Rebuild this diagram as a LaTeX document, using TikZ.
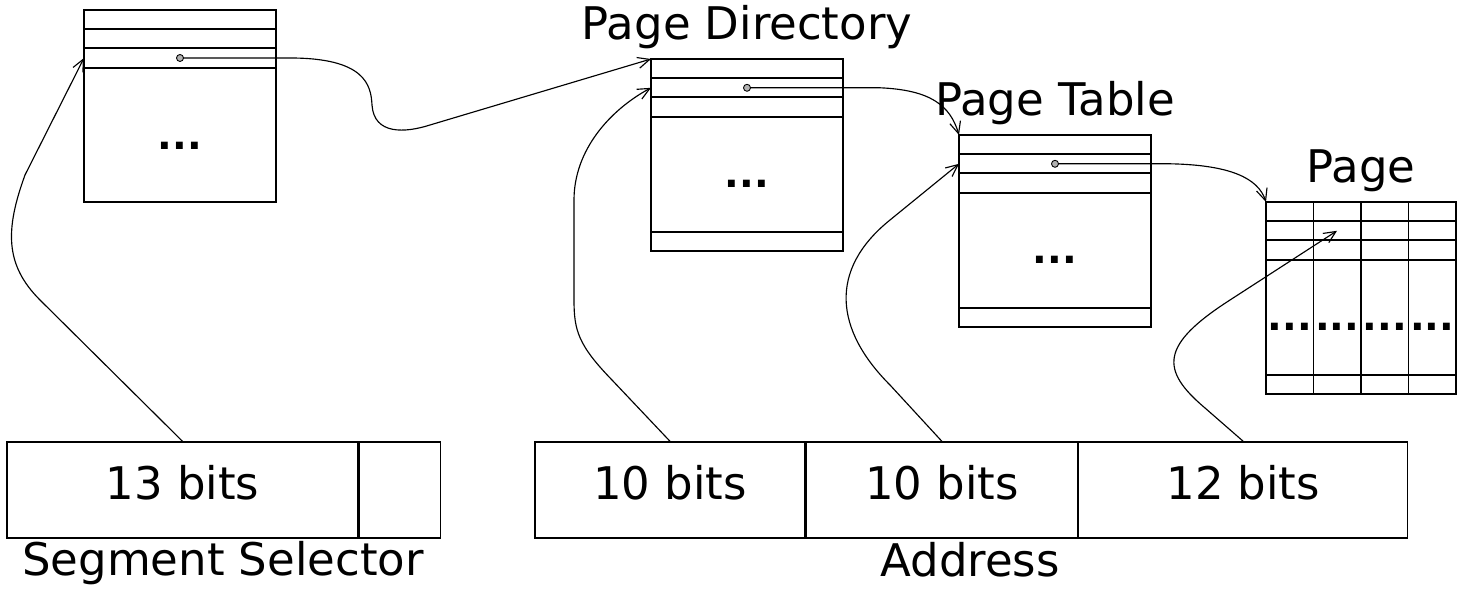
\documentclass[tikz,border=0pt]{standalone}
\usepackage{fontspec}
\setmainfont{DejaVu Sans}
\usepackage{tikz}
\usetikzlibrary{positioning,arrows.meta}

\tikzset{
  tab/.style={black, line width=1.1pt},
  field/.style={draw, line width=0.8pt, minimum height=1.92cm, inner sep=0pt,
                text height=0.6cm, text depth=0.2cm},
  dots/.style={font=\fontsize{22}{26}\selectfont\bfseries},
  conn/.style={black, line width=0.65pt, -{Straight Barb[length=0.24cm,width=0.22cm]}},
  ptr/.style={fill=gray!60, draw=black, line width=0.5pt}
}

\begin{document}
\begin{tikzpicture}[x=0.02cm,y=-0.02cm,font=\fontsize{25.6}{30}\selectfont]
\useasboundingbox (0,0) rectangle (1466,590);
% segment table
\draw[tab] (84,10) rectangle (276,202);
\draw[tab] (84,29.2) -- (276,29.2);
\draw[tab] (84,48.4) -- (276,48.4);
\draw[tab] (84,67.6) -- (276,67.6);
\node[dots] (segdots) at (180,146) {...};
\coordinate (segin) at (84,58);
\coordinate (segptr) at (180,58);
% page directory
\draw[tab] (651,59) rectangle (843,251);
\draw[tab] (651,78.2) -- (843,78.2);
\draw[tab] (651,97.4) -- (843,97.4);
\draw[tab] (651,116.6) -- (843,116.6);
\draw[tab] (651,231.8) -- (843,231.8);
\node[anchor=base] (pdname) at (747,40) {Page Directory};
\node[dots] (pddots) at (747,184) {...};
\coordinate (pdtop) at (651,59);
\coordinate (pdin) at (651,87.8);
\coordinate (pdptr) at (747,87.8);
% page table
\draw[tab] (959,135) rectangle (1151,327);
\draw[tab] (959,154.2) -- (1151,154.2);
\draw[tab] (959,173.4) -- (1151,173.4);
\draw[tab] (959,192.6) -- (1151,192.6);
\draw[tab] (959,307.8) -- (1151,307.8);
\node[anchor=base] (ptname) at (1055,116) {Page Table};
\node[dots] (ptdots) at (1055,260) {...};
\coordinate (pttop) at (959,135);
\coordinate (ptin) at (959,163.8);
\coordinate (ptptr) at (1055,163.8);
% page
\draw[tab] (1266,202) rectangle (1456,394);
\draw[tab] (1266,221.2) -- (1456,221.2);
\draw[tab] (1266,240.4) -- (1456,240.4);
\draw[tab] (1266,259.6) -- (1456,259.6);
\draw[tab] (1266,374.8) -- (1456,374.8);
\draw[tab] (1313.5,202) -- (1313.5,394);
\draw[tab] (1361,202) -- (1361,394);
\draw[tab] (1408.5,202) -- (1408.5,394);
\node[anchor=base] (pgname) at (1361,183) {Page};
\node[dots] (pgdotsa) at (1289.75,327) {...};
\node[dots] (pgdotsb) at (1337.25,327) {...};
\node[dots] (pgdotsc) at (1384.75,327) {...};
\node[dots] (pgdotsd) at (1432.25,327) {...};
\coordinate (pagetop) at (1266,202);
\coordinate (pagein) at (1337,230.8);
% selector and address
\node[field, minimum width=7.02cm] (sel13) at (182.5,490) {13 bits};
\node[field, minimum width=1.62cm, right=0pt of sel13] (selrest) {};
\node[anchor=base] (selname) at (223,575) {Segment Selector};
\node[field, minimum width=5.4cm] (adir) at (670,490) {10 bits};
\node[field, minimum width=5.42cm, right=0pt of adir] (atab) {10 bits};
\node[field, minimum width=6.58cm, right=0pt of atab] (aoff) {12 bits};
\node[anchor=base] (addrname) at (970,576) {Address};
% index arrows
\draw[conn] (sel13.north) -- (40,300) .. controls (5,265) and (5,230) .. (25,175) -- (segin);
\draw[conn] (adir.north) -- (612,380) .. controls (578,345) and (574,330) .. (574,300)
  -- (574,200) .. controls (574,150) and (610,110) .. (pdin);
\draw[conn] (atab.north) -- (890,385) .. controls (835,330) and (828,270) .. (890,220) -- (ptin);
\draw[conn] (aoff.north) -- (1205,408) .. controls (1160,370) and (1160,345) .. (1230,300) -- (pagein);
% pointer arrows
\draw[conn] (segptr) -- (290,58) .. controls (365,58) and (371,85) .. (372,105)
  .. controls (374,135) and (405,133) .. (430,125) -- (pdtop);
\draw[conn] (pdptr) -- (880,87.8) .. controls (930,90) and (950,105) .. (pttop);
\draw[conn] (ptptr) -- (1170,163.8) .. controls (1230,165) and (1258,178) .. (pagetop);
\filldraw[ptr] (segptr) circle (0.07cm);
\filldraw[ptr] (pdptr) circle (0.07cm);
\filldraw[ptr] (ptptr) circle (0.07cm);
\end{tikzpicture}
\end{document}
